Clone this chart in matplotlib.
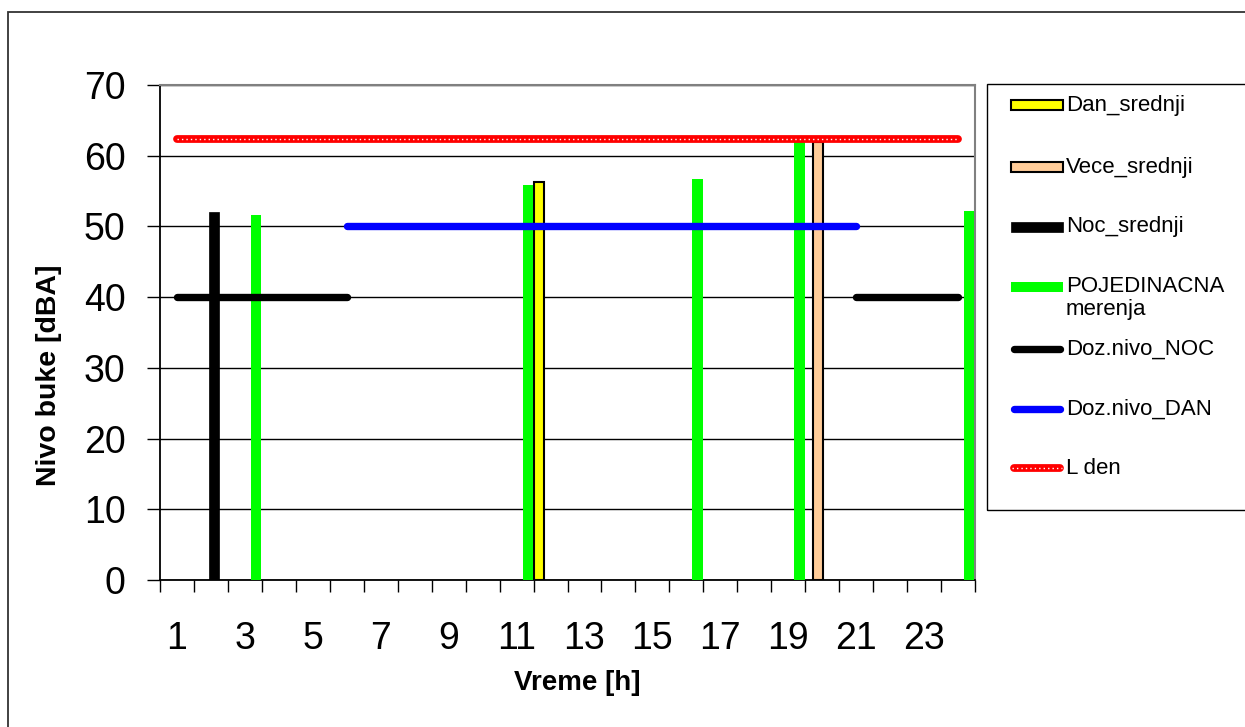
import matplotlib.pyplot as plt
from matplotlib.lines import Line2D
from matplotlib.patches import Rectangle
import numpy as np

plt.rcParams['font.family'] = ['Liberation Sans', 'DejaVu Sans']

# ---- data ----
nan = np.nan
hours = list(range(1, 25))
tick_hours = list(range(1, 24, 2))
ticks_y = [0, 10, 20, 30, 40, 50, 60, 70]

dan_hours = [12]
dan_srednji = [56.3]
vece_hours = [20]
vece_srednji = [62.0]
noc_hours = [2]
noc_srednji = [52.1]
pojed_hours = [3, 11, 16, 19, 24]
pojedinacna = [51.6, 55.8, 56.7, 62.0, 52.2]

doz_nivo_noc = [40, 40, 40, 40, 40, 40, nan, nan, nan, nan, nan, nan,
                nan, nan, nan, nan, nan, nan, nan, nan, 40, 40, 40, 40]
doz_nivo_dan = [nan, nan, nan, nan, nan, 50, 50, 50, 50, 50, 50, 50,
                50, 50, 50, 50, 50, 50, 50, 50, 50, nan, nan, nan]
l_den = [62.4, 62.4, 62.4, 62.4, 62.4, 62.4, 62.4, 62.4, 62.4, 62.4, 62.4, 62.4,
         62.4, 62.4, 62.4, 62.4, 62.4, 62.4, 62.4, 62.4, 62.4, 62.4, 62.4, 62.4]

labels = ["Dan_srednji", "Vece_srednji", "Noc_srednji", "POJEDINACNA\nmerenja",
          "Doz.nivo_NOC", "Doz.nivo_DAN", "L den"]

YELLOW = "#FFFF00"
PEACH = "#FFCC99"
GREEN = "#00FF00"
BLUE = "#0000FF"
RED = "#FF0000"

W, H = 1245, 727
fig = plt.figure(figsize=(W / 100, H / 100), dpi=100)


def fx(px):
    return px / W


def fy(py):
    return 1 - py / H


ax = fig.add_axes([fx(160), fy(580), fx(975) - fx(160), fy(85) - fy(580)])

# --- bars (clustered, 4 series) ---
bw = 0.30
ax.bar(np.array(dan_hours) - 0.35, dan_srednji, width=bw, color=YELLOW,
       edgecolor="black", linewidth=1.5, zorder=3)
ax.bar(np.array(vece_hours) - 0.12, vece_srednji, width=bw, color=PEACH,
       edgecolor="black", linewidth=1.5, zorder=3)
ax.bar(np.array(noc_hours) + 0.10, noc_srednji, width=bw, color="black",
       edgecolor="black", linewidth=0.5, zorder=3)
ax.bar(np.array(pojed_hours) + 0.33, pojedinacna, width=bw, color=GREEN,
       linewidth=0, zorder=3)

# --- limit lines ---
ax.plot(hours, doz_nivo_noc, color="black", lw=5.3, solid_capstyle="round", zorder=4)
ax.plot(hours, doz_nivo_dan, color=BLUE, lw=5.3, solid_capstyle="round", zorder=4)
ax.plot(hours, l_den, color=RED, lw=5.6, solid_capstyle="round", zorder=5)
ax.plot(hours, l_den, color="white", lw=1.0, ls=(0, (1, 2.2)), zorder=6)

# --- axes styling ---
ax.set_xlim(0.5, 24.5)
ax.set_ylim(0, 70)
ax.set_yticks(ticks_y)
ax.set_xticks(tick_hours)
ax.set_xticks(np.arange(0.5, 25, 1), minor=True)
ax.grid(True, axis="y", color="black", lw=1.0, zorder=1)
ax.set_axisbelow(True)

ax.tick_params(axis="y", which="major", length=9.4, width=1, direction="out",
               pad=15.5, labelsize=27, colors="black")
ax.tick_params(axis="x", which="major", length=0, pad=29.5, labelsize=27)
ax.tick_params(axis="x", which="minor", length=8.6, width=1, direction="out")

ax.spines["left"].set_color("black")
ax.spines["bottom"].set_color("black")
ax.spines["left"].set_linewidth(1.3)
ax.spines["bottom"].set_linewidth(1.3)
ax.spines["top"].set_color("#808080")
ax.spines["right"].set_color("#808080")
ax.spines["top"].set_linewidth(1.5)
ax.spines["right"].set_linewidth(1.5)

ax.set_ylabel("Nivo buke [dBA]", fontsize=20.5, fontweight="bold", va="center")
ax.yaxis.set_label_coords((49.5 - 160) / 815, (580 - 375) / 495)
ax.set_xlabel("Vreme [h]", fontsize=20, fontweight="bold", va="center")
ax.xaxis.set_label_coords((577 - 160) / 815, -(683 - 580) / 495)

# --- outer chart frame ---
fig.add_artist(Rectangle((fx(8.3), -0.2), 1.5, fy(12.3) + 0.2, transform=fig.transFigure,
                         fill=False, ec="#333333", lw=1.3, clip_on=False))

# --- legend, drawn like the Excel one ---
fig.add_artist(Rectangle((fx(987), fy(510)), 1.0, fy(84) - fy(510),
                         transform=fig.transFigure, fill=False, ec="black", lw=1.0,
                         clip_on=False))
row_y = [105, 167, 227, 287, 349, 409, 468]
hx0, hx1, tx = 1011, 1063, 1066
bar_styles = [(YELLOW, "black", 1.5), (PEACH, "black", 1.5),
              ("black", "black", 0.5), (GREEN, GREEN, 0)]
for (fc, ec, lw), yy in zip(bar_styles, row_y[:4]):
    fig.add_artist(Rectangle((fx(hx0), fy(yy + 5)), fx(hx1) - fx(hx0), fy(yy - 5) - fy(yy + 5),
                             transform=fig.transFigure, fc=fc, ec=ec, lw=lw))
line_styles = [("black", 5.3), (BLUE, 5.3), (RED, 5.6)]
for (c, lw), yy in zip(line_styles, row_y[4:]):
    fig.add_artist(Line2D([fx(hx0 + 3), fx(hx1 - 3)], [fy(yy), fy(yy)], color=c, lw=lw,
                          solid_capstyle="round", transform=fig.transFigure))
fig.add_artist(Line2D([fx(hx0 + 1), fx(hx1 - 1)], [fy(row_y[6]), fy(row_y[6])], color="white",
                      lw=1.0, ls=(0, (1, 2.2)), transform=fig.transFigure))
for lab, yy in zip(labels, row_y):
    if "\n" in lab:
        fig.text(fx(tx), fy(yy - 11), lab, fontsize=16, va="top", ha="left",
                 linespacing=1.1)
    else:
        fig.text(fx(tx), fy(yy), lab, fontsize=16, va="center", ha="left")

fig.savefig("out.png", dpi=100, facecolor="white")
